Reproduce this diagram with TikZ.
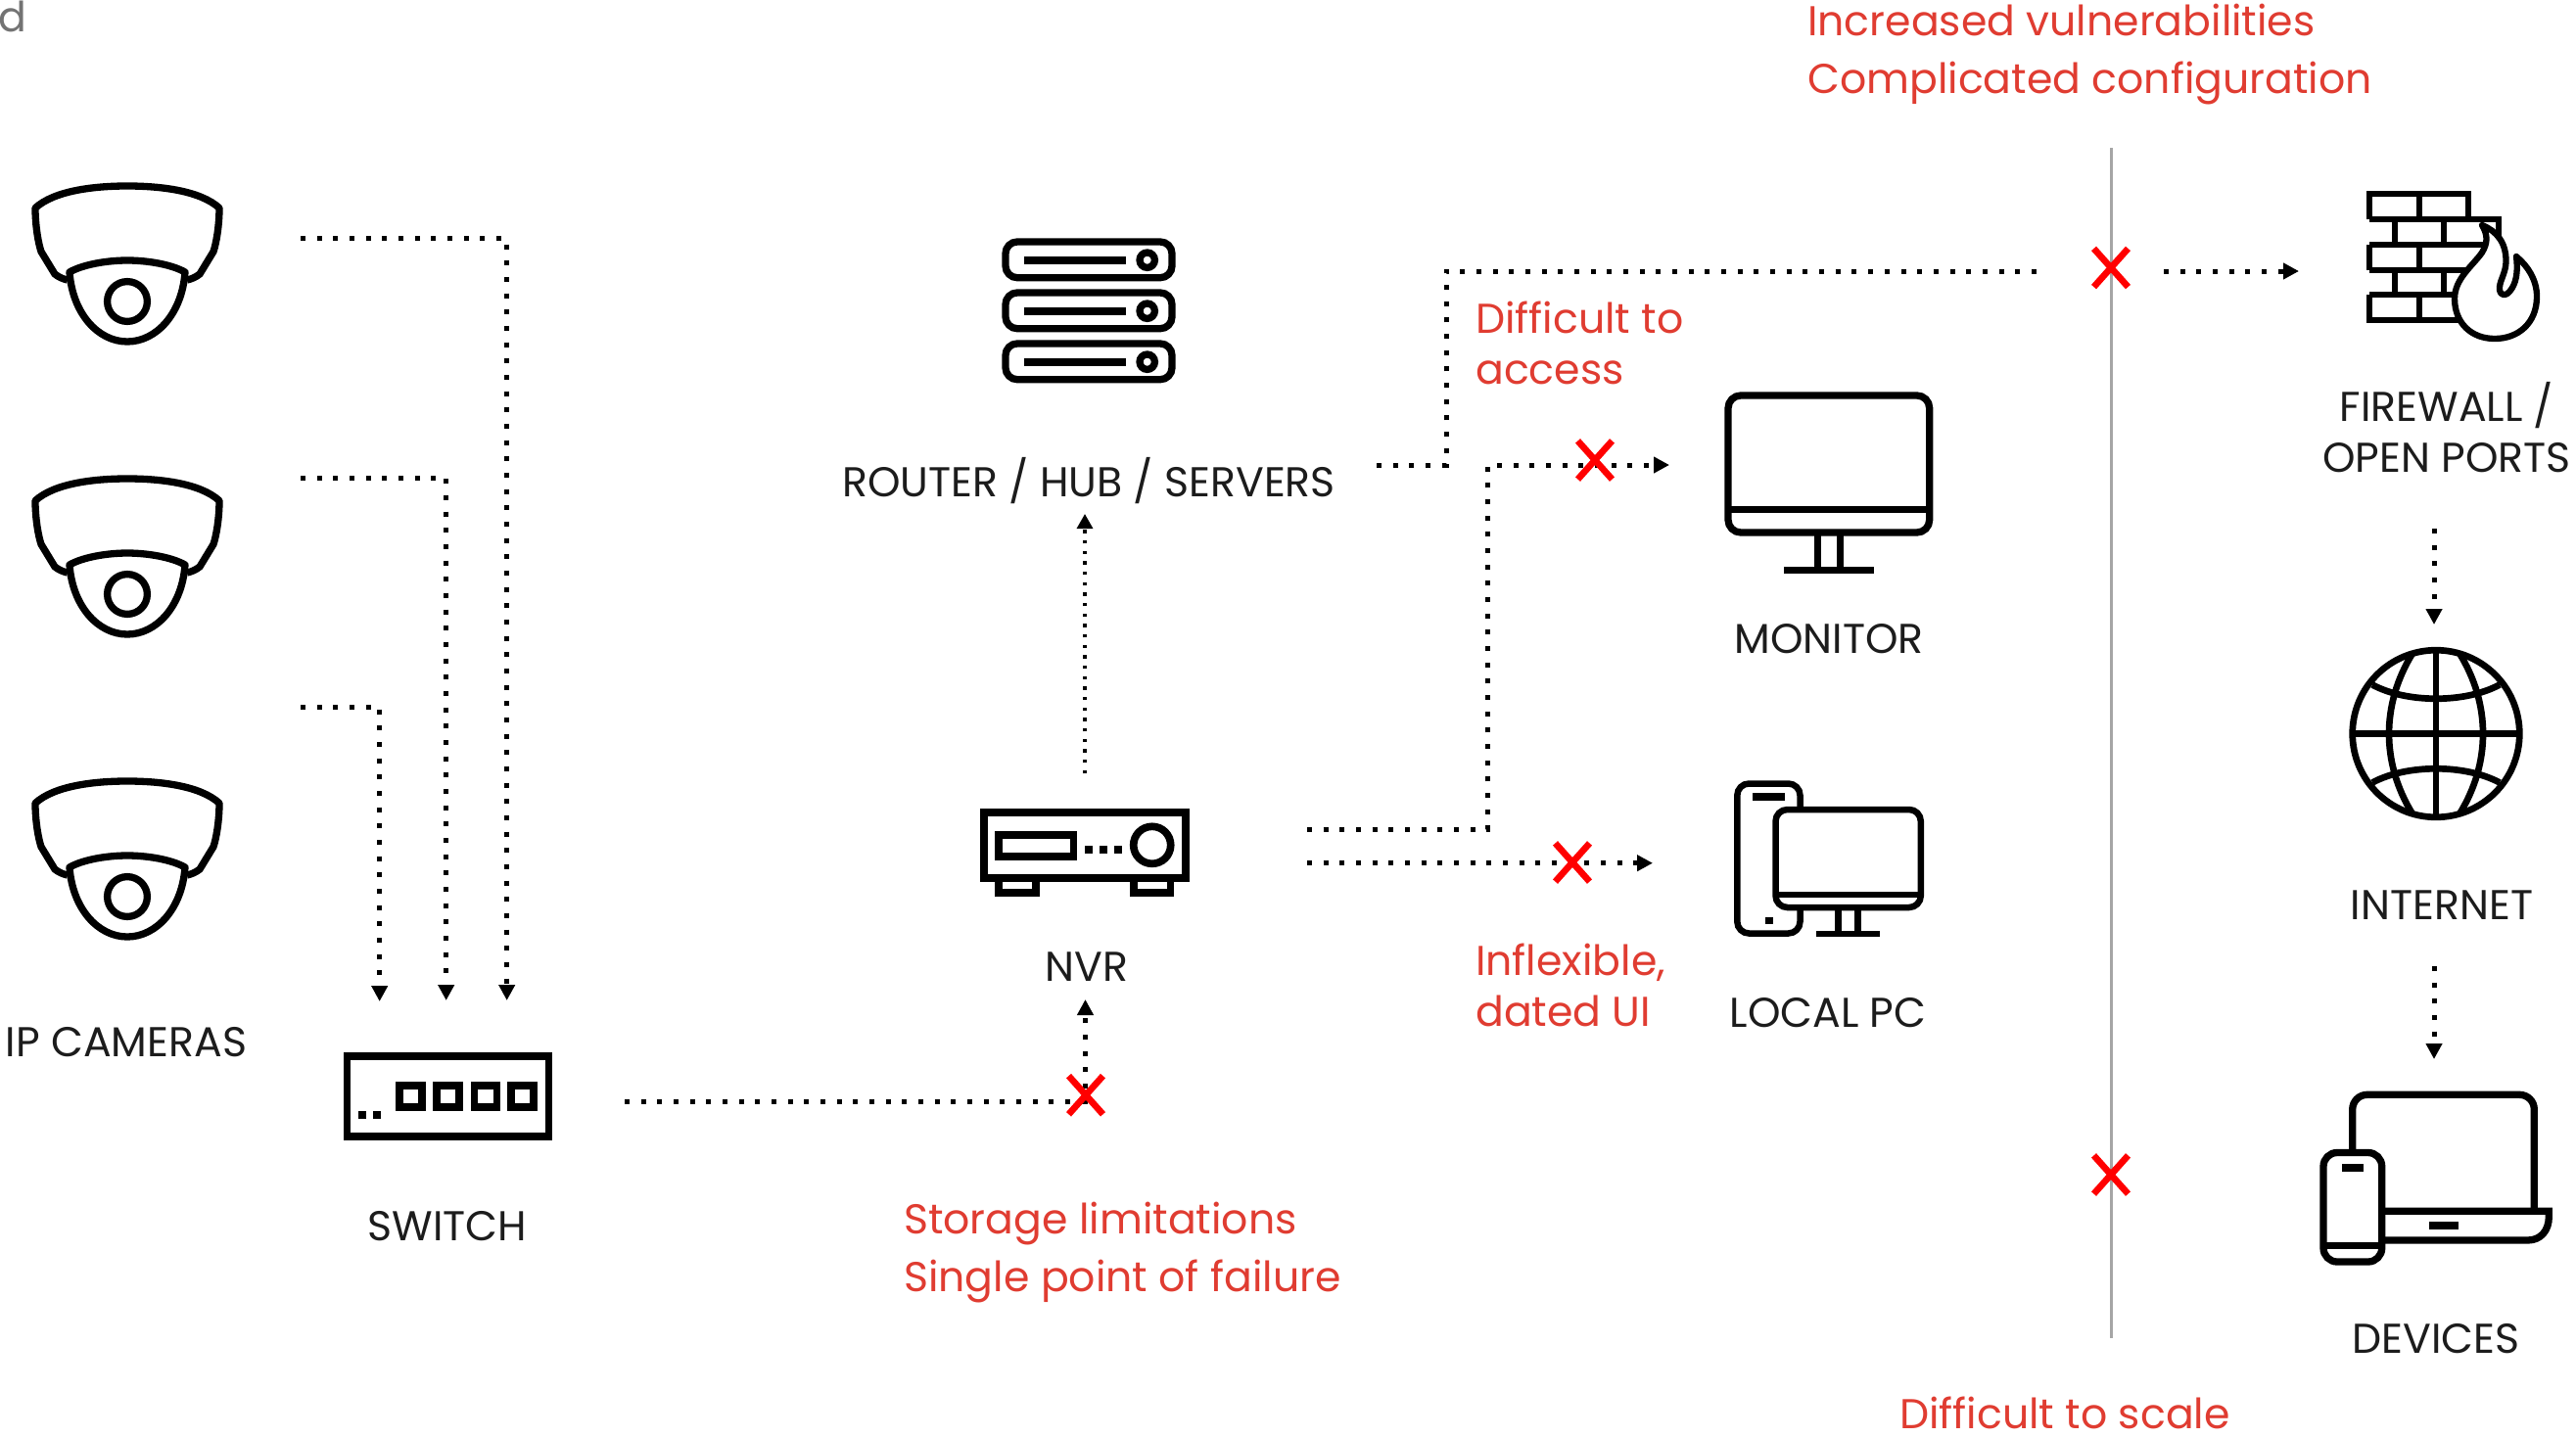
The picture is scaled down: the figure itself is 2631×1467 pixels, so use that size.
\documentclass[tikz,border=0pt]{standalone}
\usepackage{fontspec}
\setmainfont{Poppins}
\usetikzlibrary{arrows.meta}
\definecolor{lblred}{HTML}{E03C31}
\definecolor{lblblack}{HTML}{1C1C1C}
\tikzset{
	iconline/.style={line width=7.3pt, black},
	dotline/.style={black, line width=5pt, dash pattern=on 5pt off 11.67pt, -{Triangle[length=16pt,width=16pt]}},
	dotplain/.style={black, line width=5pt, dash pattern=on 5pt off 11.67pt},
	finedot/.style={black, line width=3.2pt, dash pattern=on 3.2pt off 7.47pt, -{Triangle[length=15pt,width=16pt]}},
	lbl/.style={text=lblblack, font=\fontsize{42.6}{52}\selectfont, inner sep=0pt, anchor=base, align=center},
	redlbl/.style={text=lblred, font=\fontsize{42.6}{52}\selectfont, inner sep=0pt, anchor=base west, align=left},
	domecam/.pic={
		\draw[iconline, line join=round] (-61,96) .. controls (-66,95) and (-70,93) .. (-74,90) -- (-88,67)
			.. controls (-91,58) and (-94,40) .. (-94,22.5) .. controls (-75,5) and (-35,0) .. (0,0)
			.. controls (35,0) and (75,5) .. (94,22.5) .. controls (94,40) and (91,58) .. (88,67)
			-- (74,90) .. controls (70,93) and (66,95) .. (61,96);
		\draw[iconline, line join=round] (-59,88) .. controls (-45,80) and (-20,76) .. (0,76)
			.. controls (20,76) and (45,80) .. (59,88) .. controls (56,130) and (30,159) .. (0,159)
			.. controls (-30,159) and (-56,130) .. (-59,88) -- cycle;
		\draw[iconline] (0,118) circle (20.4);
	},
	crossmark/.pic={
		\draw[red, line width=6.7pt] (-17.5,-19.6) -- (17.5,19.6);
		\draw[red, line width=6.7pt] (17.5,-19.6) -- (-17.5,19.6);
	},
}
\begin{document}
\begin{tikzpicture}[x=1pt,y=-1pt]
	\useasboundingbox (0,0) rectangle (2631,1467);
	\fill[white] (0,0) rectangle (2631,1467);

	% end points of the links
	\coordinate (camAout) at (307,243.5);
	\coordinate (camBout) at (307,488);
	\coordinate (camCout) at (307,722);
	\coordinate (swAin) at (517.7,1022);
	\coordinate (swBin) at (455.7,1022);
	\coordinate (swCin) at (387.7,1023);
	\coordinate (swOut) at (638,1125);
	\coordinate (nvrIn) at (1108.5,1021);
	\coordinate (nvrUp) at (1108,790);
	\coordinate (rtIn) at (1108,525);
	\coordinate (rtOut) at (1406,475);
	\coordinate (rtBend) at (1477,277);
	\coordinate (fwGapA) at (2081,277);
	\coordinate (fwGapB) at (2210,277);
	\coordinate (fwIn) at (2348,277);
	\coordinate (nvrOutA) at (1335,847.7);
	\coordinate (nvrOutB) at (1335,881.7);
	\coordinate (monBend) at (1519,475);
	\coordinate (monIn) at (1705,475);
	\coordinate (pcIn) at (1688,881.7);
	\coordinate (fwOut) at (2486,540);
	\coordinate (netIn) at (2486,638);
	\coordinate (netOut) at (2486,987);
	\coordinate (devIn) at (2486,1082);
	\coordinate (crossNvr) at (1109,1118.7);
	\coordinate (crossMon) at (1629,470);
	\coordinate (crossPc) at (1606,881);
	\coordinate (crossFw) at (2156,273.5);
	\coordinate (crossDev) at (2156,1200);
	\coordinate (wallTop) at (2156,151);
	\coordinate (wallBot) at (2156,1367);

	\draw[line width=3pt, color=black!35] (wallTop) -- (wallBot);

	\draw[dotline] (camAout) -| (swAin);
	\draw[dotline] (camBout) -| (swBin);
	\draw[dotline] (camCout) -| (swCin);
	\draw[dotline] (swOut) -| (nvrIn);
	\draw[finedot] (nvrUp) -- (rtIn);
	\draw[dotplain] (rtOut) -| (rtBend) -- (fwGapA);
	\draw[dotline] (fwGapB) -- (fwIn);
	\draw[dotline] (nvrOutA) -| (monBend) -- (monIn);
	\draw[dotline] (nvrOutB) -- (pcIn);
	\draw[dotline] (fwOut) -- (netIn);
	\draw[dotline] (netOut) -- (devIn);

	\pic at (130,190) {domecam};
	\pic at (130,489) {domecam};
	\pic at (130,798) {domecam};

	% switch
	\draw[iconline, line width=7.67pt] (354.5,1079) rectangle (560.5,1161);
	\foreach \px in {404.3,442.3,480.7,518.3}
		\draw[iconline, line width=7.67pt] (\px+3.8,1108.8) rectangle (\px+26.8,1131.2);
	\fill (366,1135) rectangle (374,1143);
	\fill (381.3,1135) rectangle (389,1143);

	% router, hub, servers
	\foreach \py in {247,299,351} {
		\draw[iconline, rounded corners=12pt] (1027,\py) rectangle (1197,\py+36.7);
		\fill (1046,\py+15) rectangle (1150,\py+23);
		\draw[iconline] (1171.7,\py+18.7) circle (7.7);
	}

	% nvr
	\draw[iconline, line width=7.67pt] (1005,830) rectangle (1211,897);
	\draw[iconline, line width=7.67pt] (1020,853) rectangle (1096.5,875);
	\foreach \px in {1108,1123,1138}
		\fill (\px,864) rectangle (\px+8,871.7);
	\draw[iconline, line width=7.67pt] (1176.7,863.3) circle (19);
	\draw[iconline, line width=7.67pt] (1020,897) -- (1020,912) -- (1058,912) -- (1058,897);
	\draw[iconline, line width=7.67pt] (1158,897) -- (1158,912) -- (1195.5,912) -- (1195.5,897);

	% monitor
	\draw[iconline, rounded corners=13pt] (1765,404) rectangle (1970.7,544);
	\draw[iconline] (1765,520.7) -- (1970.7,520.7);
	\draw[iconline] (1856.5,544) -- (1856.5,582);
	\draw[iconline] (1879.5,544) -- (1879.5,582);
	\draw[iconline] (1822,582.8) -- (1913.7,582.8);

	% local pc
	\draw[iconline, line width=6.5pt, rounded corners=12pt] (1774.3,800.5) rectangle (1838.5,953.5);
	\fill (1790,810) rectangle (1823,818);
	\fill (1803,936.7) rectangle (1811,944);
	\draw[iconline, line width=6.5pt, rounded corners=12pt, fill=white] (1813.5,827) rectangle (1961.8,927);
	\draw[iconline, line width=6.5pt] (1813.5,914) -- (1961.8,914);
	\draw[iconline, line width=6.5pt] (1877.3,927) -- (1877.3,954);
	\draw[iconline, line width=6.5pt] (1897.7,927) -- (1897.7,954);
	\draw[iconline, line width=6.5pt] (1855,954) -- (1920,954);

	% firewall
	\begin{scope}[iconline, line width=6.3pt]
		\draw (2420.3,224) -- (2420.3,198) -- (2521,198) -- (2521,224);
		\draw (2420.3,224) -- (2552.3,224) -- (2552.3,260);
		\draw (2420.3,250) -- (2552.3,250);
		\draw (2420.3,276) -- (2530,276);
		\draw (2420.3,301.3) -- (2530,301.3);
		\draw (2420.3,250) -- (2420.3,276);
		\draw (2420.3,301.3) -- (2420.3,327.3) -- (2530,327.3);
		\draw (2470.7,198) -- (2470.7,224);
		\draw (2445.7,224) -- (2445.7,250);
		\draw (2495.7,224) -- (2495.7,250);
		\draw (2470.7,250) -- (2470.7,276);
		\draw (2445.7,276) -- (2445.7,301.3);
		\draw (2495.7,276) -- (2495.7,301.3);
		\draw (2470.7,301.3) -- (2470.7,327.3);
		\draw[fill=white, line join=round] (2535,230) .. controls (2550,236) and (2560,248) .. (2559.5,268)
			.. controls (2559,280) and (2552,288) .. (2553,296) .. controls (2554,303) and (2560,302) .. (2563,298)
			.. controls (2570,290) and (2572,278) .. (2570,262) .. controls (2582,272) and (2591,286) .. (2591,303)
			.. controls (2591,330) and (2572,346) .. (2548,346) .. controls (2524,346) and (2507,330) .. (2507,305)
			.. controls (2507,285) and (2525,272) .. (2535,258) .. controls (2541,248) and (2541,240) .. (2535,230) -- cycle;
	\end{scope}

	% internet
	\begin{scope}[shift={(2488,749.5)}, iconline, line width=6.7pt]
		\draw (0,0) circle (85.3);
		\draw (-85,0) -- (85,0);
		\draw (0,-85) -- (0,85);
		\draw (-24,-82) .. controls (-56,-30) and (-56,30) .. (-24,82);
		\draw (24,-82) .. controls (56,-30) and (56,30) .. (24,82);
		\draw (-65,-50) .. controls (-30,-31) and (30,-31) .. (65,-50);
		\draw (-65,50) .. controls (-30,31) and (30,31) .. (65,50);
	\end{scope}

	% devices
	\draw[iconline, rounded corners=15pt] (2402.7,1180) -- (2402.7,1118.3) -- (2588.3,1118.3) -- (2588.3,1237);
	\draw[iconline] (2436,1237.3) -- (2603.3,1237.3) -- (2603.3,1243) .. controls (2603.3,1257) and (2595,1267) .. (2581.7,1267) -- (2436,1267);
	\fill (2481,1248) rectangle (2511,1255.7);
	\draw[iconline, rounded corners=14pt] (2373,1177.5) rectangle (2432.7,1289);
	\draw[iconline] (2373,1272.7) -- (2432.7,1272.7);
	\fill (2392,1189) rectangle (2414,1197);

	\pic at (crossNvr) {crossmark};
	\pic at (crossMon) {crossmark};
	\pic at (crossPc) {crossmark};
	\pic at (crossFw) {crossmark};
	\pic at (crossDev) {crossmark};

	\node[text=black!55, font=\fontsize{42.6}{52}\selectfont, inner sep=0pt, anchor=base] (panelD) at (13,32) {d};
	\node[lbl] (camLbl) at (129,1079) {IP CAMERAS};
	\node[lbl] (swLbl) at (457,1267) {SWITCH};
	\node[lbl] (rtLbl) at (1112,507.5) {ROUTER / HUB / SERVERS};
	\node[lbl] (nvrLbl) at (1110,1002.5) {NVR};
	\node[lbl] (monLbl) at (1868,667) {MONITOR};
	\node[lbl] (pcLbl) at (1867,1049.5) {LOCAL PC};
	\node[lbl] (fwLbl) at (2499,482.5) {FIREWALL /\\OPEN PORTS};
	\node[lbl] (netLbl) at (2494,939) {INTERNET};
	\node[lbl] (devLbl) at (2488,1382) {DEVICES};

	\node[redlbl] (vulnLbl) at (1846,95) {Increased vulnerabilities\\[7pt]Complicated configuration};
	\node[redlbl] (accLbl) at (1507,392) {Difficult to\\access};
	\node[redlbl] (uiLbl) at (1507,1048) {Inflexible,\\dated UI};
	\node[redlbl] (stoLbl) at (923,1319) {Storage limitations\\[7pt]Single point of failure};
	\node[redlbl] (scaLbl) at (1940,1459) {Difficult to scale};
\end{tikzpicture}
\end{document}
